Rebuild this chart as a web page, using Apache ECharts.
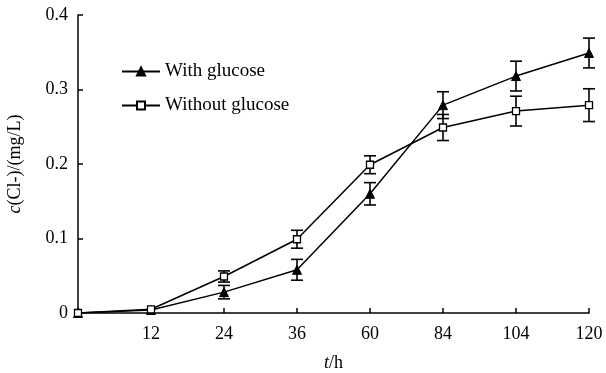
<!DOCTYPE html>
<html><head><meta charset="utf-8">
<script src="https://cdn.jsdelivr.net/npm/echarts@6/dist/echarts.min.js"></script>
<style>html,body{margin:0;padding:0;background:#fff}#c{width:606px;height:373px}</style>
</head><body><div id="c"></div>
<script>
const categories = ['0','12','24','36','60','84','104','120'];
const withGlucose = [0, 0.004, 0.028, 0.058, 0.16, 0.279, 0.318, 0.349];
const withGlucoseErr = [0, 0, 0.009, 0.014, 0.015, 0.018, 0.02, 0.02];
const withoutGlucose = [0, 0.005, 0.049, 0.099, 0.199, 0.249, 0.271, 0.279];
const withoutGlucoseErr = [0, 0, 0.0075, 0.012, 0.012, 0.0175, 0.02, 0.022];
const yTicks = [0, 0.1, 0.2, 0.3, 0.4];

const FONT = 'Liberation Serif';
const FS = 18;
function errData(vals, errs){ return vals.map((v,i)=>[i, v-errs[i], v+errs[i]]); }
function errSeries(vals, errs){
  return {
    type:'custom', silent:true, z:1,
    data: errData(vals, errs).filter(d=>d[2]-d[1]>0),
    renderItem:function(params, api){
      const lo = api.coord([api.value(0), api.value(1)]);
      const hi = api.coord([api.value(0), api.value(2)]);
      const w = 6;
      const st = {stroke:'#000', lineWidth:1.6};
      return {type:'group', children:[
        {type:'line', shape:{x1:lo[0],y1:lo[1],x2:hi[0],y2:hi[1]}, style:st},
        {type:'line', shape:{x1:lo[0]-w,y1:lo[1],x2:lo[0]+w,y2:lo[1]}, style:st},
        {type:'line', shape:{x1:hi[0]-w,y1:hi[1],x2:hi[0]+w,y2:hi[1]}, style:st}
      ]};
    }
  };
}
const rich = {i:{fontStyle:'italic', fontFamily:FONT, fontSize:FS, color:'#000'}};
const chart = echarts.init(document.getElementById('c'));
chart.setOption({
  animation:false,
  textStyle:{fontFamily:FONT, color:'#000'},
  grid:{left:78, right:17, top:15, bottom:60, containLabel:false, outerBoundsMode:'none'},
  legend:{
    data:['With glucose','Without glucose'],
    orient:'vertical', left:116, top:57, itemGap:15,
    itemWidth:38, itemHeight:10,
    textStyle:{fontFamily:FONT, fontSize:19, color:'#000'}
  },
  xAxis:{
    type:'category', data:categories, boundaryGap:false,
    name:'{i|t}/h', nameLocation:'middle', nameGap:41,
    nameTextStyle:{fontFamily:FONT, fontSize:FS, color:'#000', rich:rich},
    axisLine:{lineStyle:{color:'#000', width:1.5}},
    axisTick:{inside:true, length:5, lineStyle:{color:'#000', width:1.5}},
    axisLabel:{fontFamily:FONT, fontSize:FS, color:'#000', margin:12,
      formatter:function(v){return v==='0'?'':v;}},
    splitLine:{show:false}
  },
  yAxis:{
    type:'value', min:yTicks[0], max:yTicks[yTicks.length-1], interval:0.1,
    name:'{i|c}(Cl-)/(mg/L)', nameLocation:'middle', nameGap:54,
    nameTextStyle:{fontFamily:FONT, fontSize:FS, color:'#000', rich:rich},
    axisLine:{show:true, lineStyle:{color:'#000', width:1.5}},
    axisTick:{show:true, inside:true, length:5, lineStyle:{color:'#000', width:1.5}},
    axisLabel:{fontFamily:FONT, fontSize:FS, color:'#000', margin:10,
      formatter:function(v){return v===0?'0':v.toFixed(1);}},
    splitLine:{show:false}
  },
  series:[
    {name:'With glucose', type:'line', data:withGlucose, z:3,
      symbol:'triangle', symbolSize:9, showAllSymbol:true,
      lineStyle:{color:'#000', width:1.5},
      itemStyle:{color:'#000', borderColor:'#000', borderWidth:1}},
    {name:'Without glucose', type:'line', data:withoutGlucose, z:3,
      symbol:'rect', symbolSize:7, showAllSymbol:true,
      lineStyle:{color:'#000', width:1.5},
      itemStyle:{color:'#fff', borderColor:'#000', borderWidth:1.3}},
    errSeries(withGlucose, withGlucoseErr),
    errSeries(withoutGlucose, withoutGlucoseErr)
  ]
});
</script></body></html>
